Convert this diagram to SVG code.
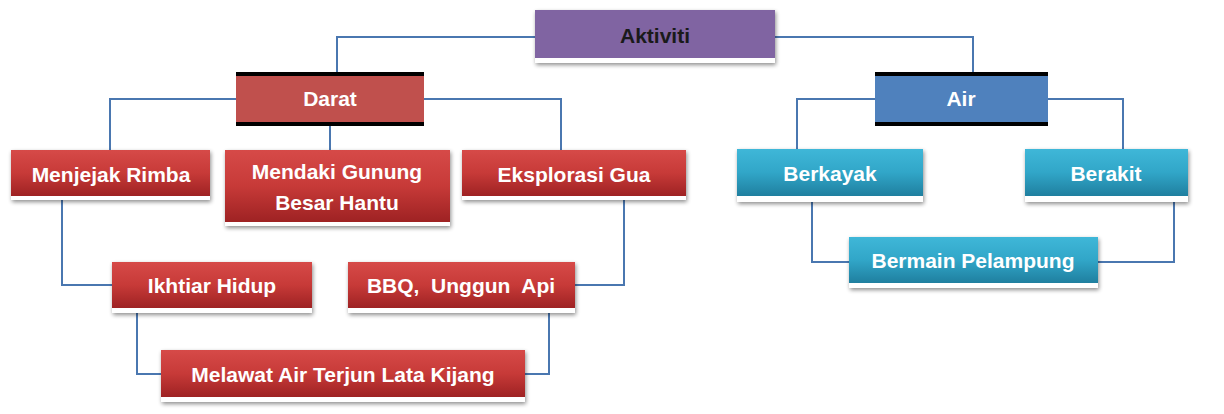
<svg xmlns="http://www.w3.org/2000/svg" width="1224" height="414" viewBox="0 0 1224 414">
<defs>
<linearGradient id="gr" x1="0" y1="0" x2="0" y2="1">
<stop offset="0" stop-color="#d64a48"/><stop offset="0.5" stop-color="#c73a38"/><stop offset="1" stop-color="#9e2223"/>
</linearGradient>
<linearGradient id="gc" x1="0" y1="0" x2="0" y2="1">
<stop offset="0" stop-color="#3fb7d8"/><stop offset="0.5" stop-color="#31a6c8"/><stop offset="1" stop-color="#1f7f9f"/>
</linearGradient>
<filter id="sh" x="-10%" y="-20%" width="120%" height="160%">
<feGaussianBlur in="SourceAlpha" stdDeviation="2"/>
<feOffset dx="1" dy="2" result="b"/>
<feComponentTransfer><feFuncA type="linear" slope="0.45"/></feComponentTransfer>
<feMerge><feMergeNode/><feMergeNode in="SourceGraphic"/></feMerge>
</filter>
</defs>
<style>
.t{font-family:"Liberation Sans",Arial,sans-serif;font-weight:bold;font-size:21px;fill:#ffffff;text-anchor:middle}
.k{fill:#1a1a1a}
.c{fill:none;stroke:#4a77b0;stroke-width:2}
.w{fill:#ffffff;filter:url(#sh)}
</style>
<rect width="1224" height="414" fill="#ffffff"/>
<g id="connectors">
<polyline class="c" points="535,37 337,37 337,72"/>
<polyline class="c" points="775,37 973,37 973,72"/>
<polyline class="c" points="236,99 110,99 110,150"/>
<polyline class="c" points="330,126 330,150"/>
<polyline class="c" points="424,99 561,99 561,150"/>
<polyline class="c" points="875,99 797,99 797,149"/>
<polyline class="c" points="1048,99 1123,99 1123,149"/>
<polyline class="c" points="62,200 62,285 112,285"/>
<polyline class="c" points="624,200 624,285 575,285"/>
<polyline class="c" points="137,313 137,374 161,374"/>
<polyline class="c" points="549,313 549,374 525,374"/>
<polyline class="c" points="812,202 812,262 849,262"/>
<polyline class="c" points="1174,202 1174,262 1098,262"/>
</g>
<g id="aktiviti">
<rect class="w" x="535" y="10" width="240" height="53"/>
<rect x="535" y="10" width="240" height="48" fill="#8064a2"/>
<text class="t k" x="655" y="43">Aktiviti</text>
</g>
<g id="darat">
<rect x="236" y="72" width="188" height="54" fill="#000000"/>
<rect x="236" y="76" width="188" height="46" fill="#c0504d"/>
<text class="t" x="330" y="106">Darat</text>
</g>
<g id="air">
<rect x="875" y="72" width="173" height="54" fill="#000000"/>
<rect x="875" y="76" width="173" height="46" fill="#4f81bd"/>
<text class="t" x="961" y="106">Air</text>
</g>
<g id="menjejak">
<rect class="w" x="11" y="150" width="199" height="50"/>
<rect x="11" y="150" width="199" height="46" fill="url(#gr)"/>
<text class="t" x="111" y="182">Menjejak Rimba</text>
</g>
<g id="mendaki">
<rect class="w" x="225" y="150" width="225" height="76"/>
<rect x="225" y="150" width="225" height="72" fill="url(#gr)"/>
<text class="t" x="337" y="179">Mendaki Gunung</text>
<text class="t" x="337" y="210">Besar Hantu</text>
</g>
<g id="eksplorasi">
<rect class="w" x="462" y="150" width="224" height="50"/>
<rect x="462" y="150" width="224" height="46" fill="url(#gr)"/>
<text class="t" x="574" y="182">Eksplorasi Gua</text>
</g>
<g id="ikhtiar">
<rect class="w" x="112" y="262" width="200" height="51"/>
<rect x="112" y="262" width="200" height="46" fill="url(#gr)"/>
<text class="t" x="212" y="293">Ikhtiar Hidup</text>
</g>
<g id="bbq">
<rect class="w" x="348" y="262" width="227" height="51"/>
<rect x="348" y="262" width="227" height="46" fill="url(#gr)"/>
<text class="t" x="461" y="293" xml:space="preserve">BBQ,  Unggun  Api</text>
</g>
<g id="melawat">
<rect class="w" x="161" y="350" width="364" height="52"/>
<rect x="161" y="350" width="364" height="47" fill="url(#gr)"/>
<text class="t" x="343" y="382">Melawat Air Terjun Lata Kijang</text>
</g>
<g id="berkayak">
<rect class="w" x="737" y="149" width="186" height="53"/>
<rect x="737" y="149" width="186" height="47" fill="url(#gc)"/>
<text class="t" x="830" y="181">Berkayak</text>
</g>
<g id="berakit">
<rect class="w" x="1025" y="149" width="163" height="53"/>
<rect x="1025" y="149" width="163" height="47" fill="url(#gc)"/>
<text class="t" x="1106" y="181">Berakit</text>
</g>
<g id="bermain">
<rect class="w" x="849" y="237" width="249" height="51"/>
<rect x="849" y="237" width="249" height="46" fill="url(#gc)"/>
<text class="t" x="973" y="268">Bermain Pelampung</text>
</g>
</svg>
